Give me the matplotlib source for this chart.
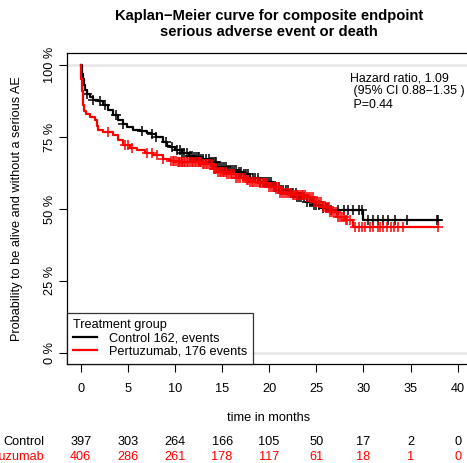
import numpy as np
import matplotlib.pyplot as plt
import matplotlib.transforms as mtransforms
from matplotlib.lines import Line2D

plt.rcParams['font.family'] = ['Liberation Sans', 'DejaVu Sans']

# Kaplan-Meier steps (months, % event free)
ctrl_t = [0, 0.1, 0.2, 0.3, 0.45, 0.7, 1.0, 1.3, 1.8, 2.4, 2.9, 3.4, 4.0, 4.5, 4.9, 5.5,
          6.3, 7.0, 7.5, 8.0, 8.7, 9.2, 9.5, 10.0, 10.8, 11.5, 12.0, 12.8, 13.7, 14.5,
          15.5, 16.6, 17.2, 18.0, 19.0, 20.4, 21.2, 22.2, 23.0, 24.0, 24.7, 25.5, 26.5, 30.0]
ctrl_s = [100, 97, 95, 93, 91.3, 90, 89, 88, 87.5, 86, 84.5, 82.6, 81, 79.5, 78.4, 77.5,
          77, 76.5, 76, 75, 73.2, 72, 71.5, 70.4, 69.5, 68.5, 68, 67.2, 66.3, 64.5,
          63.5, 62.8, 62.2, 60.7, 59.5, 57.6, 56.6, 55.5, 54, 52.5, 51.3, 50.5, 49.8, 46.2]
ctrl_cens = [0.7, 1.3, 2.0, 2.6, 3.7, 4.5, 6.5, 7.6, 8.0, 9.0, 9.7, 10.2, 10.5, 10.8, 11.0,
             11.3, 11.6, 11.8, 12.0, 12.2, 12.4, 12.6, 12.8, 13.0, 13.3, 13.6, 13.8, 14.0,
             14.2, 14.4, 14.6, 14.8, 15.0, 15.2, 15.4, 15.6, 15.8, 16.1, 16.3, 16.5, 16.8,
             17.0, 17.3, 17.5, 17.8, 18.0, 18.3, 18.5, 18.8, 19.0, 19.3, 19.6, 19.8, 20.0,
             20.2, 20.5, 20.7, 21.0, 21.3, 21.5, 21.8, 22.0, 22.3, 22.5, 22.8, 23.0, 23.2,
             23.4, 23.7, 24.0, 24.3, 24.5, 24.8, 25.0, 25.3, 25.7, 26.0, 26.2, 26.6, 27.3,
             27.9, 28.4, 28.9, 29.5, 29.9, 30.5, 31.0, 31.6, 32.1, 32.6, 33.4, 34.6, 37.8,
             37.9]

pert_t = [0, 0.05, 0.1, 0.2, 0.25, 0.4, 0.6, 1.0, 1.5, 1.7, 1.8, 2.4, 3.4, 4.0, 4.5, 5.2,
          6.0, 6.8, 7.7, 8.7, 9.5, 10.2, 13.0, 14.0, 14.5, 15.5, 16.5, 17.5, 18.0, 19.0,
          20.0, 21.2, 22.5, 24.0, 24.8, 25.7, 26.5, 27.2, 28.0, 28.9]
pert_s = [100, 95, 91, 88, 86, 84, 83, 81.9, 80.9, 79, 77.4, 76.7, 75.7, 74, 72.2, 71.2,
          70.4, 69.5, 68.7, 67.3, 66.6, 66.3, 65.5, 64, 62.8, 62, 60.8, 60, 59.4, 59,
          57.5, 55.5, 54.8, 54.1, 52.5, 50.6, 49, 47.2, 46, 43.7]
pert_cens = [2.9, 4.7, 5.0, 5.4, 7.0, 7.6, 8.1, 8.7, 9.6, 9.8, 9.9, 10.1, 10.3, 10.4, 10.5,
             10.7, 10.8, 11.0, 11.1, 11.3, 11.4, 11.6, 11.8, 11.9, 12.1, 12.2, 12.4, 12.5,
             12.7, 12.8, 13.0, 13.1, 13.3, 13.4, 13.6, 13.8, 13.9, 14.1, 14.3, 14.4, 14.6,
             14.8, 14.9, 15.1, 15.2, 15.4, 15.5, 15.7, 15.9, 16.1, 16.3, 16.5, 16.7, 16.9,
             17.2, 17.4, 17.6, 17.8, 18.0, 18.2, 18.3, 18.5, 18.7, 18.9, 19.0, 19.2, 19.4,
             19.6, 19.8, 20.0, 20.2, 20.4, 20.5, 20.7, 20.8, 21.0, 21.2, 21.4, 21.6, 21.8,
             22.0, 22.2, 22.3, 22.5, 22.6, 22.8, 22.9, 23.1, 23.3, 23.5, 23.6, 23.8, 24.0,
             24.2, 24.4, 24.6, 24.8, 25.0, 25.1, 25.3, 25.5, 25.7, 25.9, 26.1, 26.3, 26.5,
             26.7, 26.9, 27.1, 27.3, 27.5, 27.7, 27.9, 28.1, 28.3, 28.6, 29.1, 29.5, 29.9,
             30.2, 30.7, 31.0, 31.5, 31.8, 32.1, 32.5, 32.9, 33.2, 33.7, 34.2, 37.9]

risk_times = [0, 5, 10, 15, 20, 25, 30, 35, 40]
ctrl_risk = [397, 303, 264, 166, 105, 50, 17, 2, 0]
pert_risk = [406, 286, 261, 178, 117, 61, 18, 1, 0]

fig = plt.figure(figsize=(4.67, 4.63), dpi=100)
ax = fig.add_axes([0.1428, 0.2138, 0.866, 0.6717])

fs = 9.2


def km(t, s, cens, color):
    t = np.asarray(t)
    s = np.asarray(s)
    cens = np.asarray(cens)
    end = max(t[-1], cens.max())
    ax.plot(np.append(t, end), np.append(s, s[-1]), drawstyle='steps-post',
            color=color, lw=1.6)
    ys = s[np.searchsorted(t, cens, side='right') - 1]
    ax.plot(cens, ys, ls='none', marker='+', ms=7.5, mew=1.1, color=color)


for y in (0, 100):
    ax.axhline(y, color='#e6e6e6', lw=1.8, zorder=0)

km(ctrl_t, ctrl_s, ctrl_cens, 'black')
km(pert_t, pert_s, pert_cens, '#ff0000')

ax.set_xlim(-1.49, 41.43)
ax.set_ylim(-3.9, 104.2)
ax.set_xticks(risk_times)
ax.set_yticks([0, 25, 50, 75, 100])
ax.set_yticklabels(['0 %', '25 %', '50 %', '75 %', '100 %'], rotation=90, va='center')
ax.tick_params(axis='x', length=6, width=0.8, pad=8, labelsize=fs)
ax.tick_params(axis='y', length=6, width=0.8, pad=1.5, labelsize=fs)
for sp in ax.spines.values():
    sp.set_linewidth(0.9)

ax.set_xlabel('time in months', fontsize=fs, labelpad=12)
ax.set_ylabel('Probability to be alive and without a serious AE', fontsize=fs, labelpad=15)
ax.set_title('Kaplan\u2212Meier curve for composite endpoint\nserious adverse event or death',
             fontsize=10.6, fontweight='bold', pad=12, linespacing=1.2)

ax.text(28.6, 97.6, 'Hazard ratio, 1.09\n (95% CI 0.88\u22121.35 )\n P=0.44',
        fontsize=8.9, va='top', ha='left', linespacing=1.15)

handles = [Line2D([], [], color='black', lw=1.6), Line2D([], [], color='#ff0000', lw=1.6)]
leg = ax.legend(handles, ['Control 162, events', 'Pertuzumab, 176 events'],
                title='Treatment group', loc='lower left', bbox_to_anchor=(0, 0),
                borderaxespad=0, fontsize=fs, title_fontsize=fs, alignment='left',
                frameon=True, fancybox=False, edgecolor='black', handlelength=1.9,
                handletextpad=0.9, labelspacing=0.1, borderpad=0.5)
leg.get_frame().set_linewidth(0.9)

# number at risk below the axis
tr = mtransforms.blended_transform_factory(ax.transData, fig.transFigure)
row_y = [1 - 442 / 463, 1 - 457 / 463]
for y, label, counts, col in [(row_y[0], 'Control', ctrl_risk, 'black'),
                               (row_y[1], 'Pertuzumab', pert_risk, '#ff0000')]:
    fig.text(44 / 467, y, label, ha='right', va='center', fontsize=fs, color=col)
    for t, n in zip(risk_times, counts):
        ax.text(t, y, str(n), transform=tr, ha='center', va='center',
                fontsize=fs, color=col, clip_on=False)

fig.savefig('out.png', dpi=100)
